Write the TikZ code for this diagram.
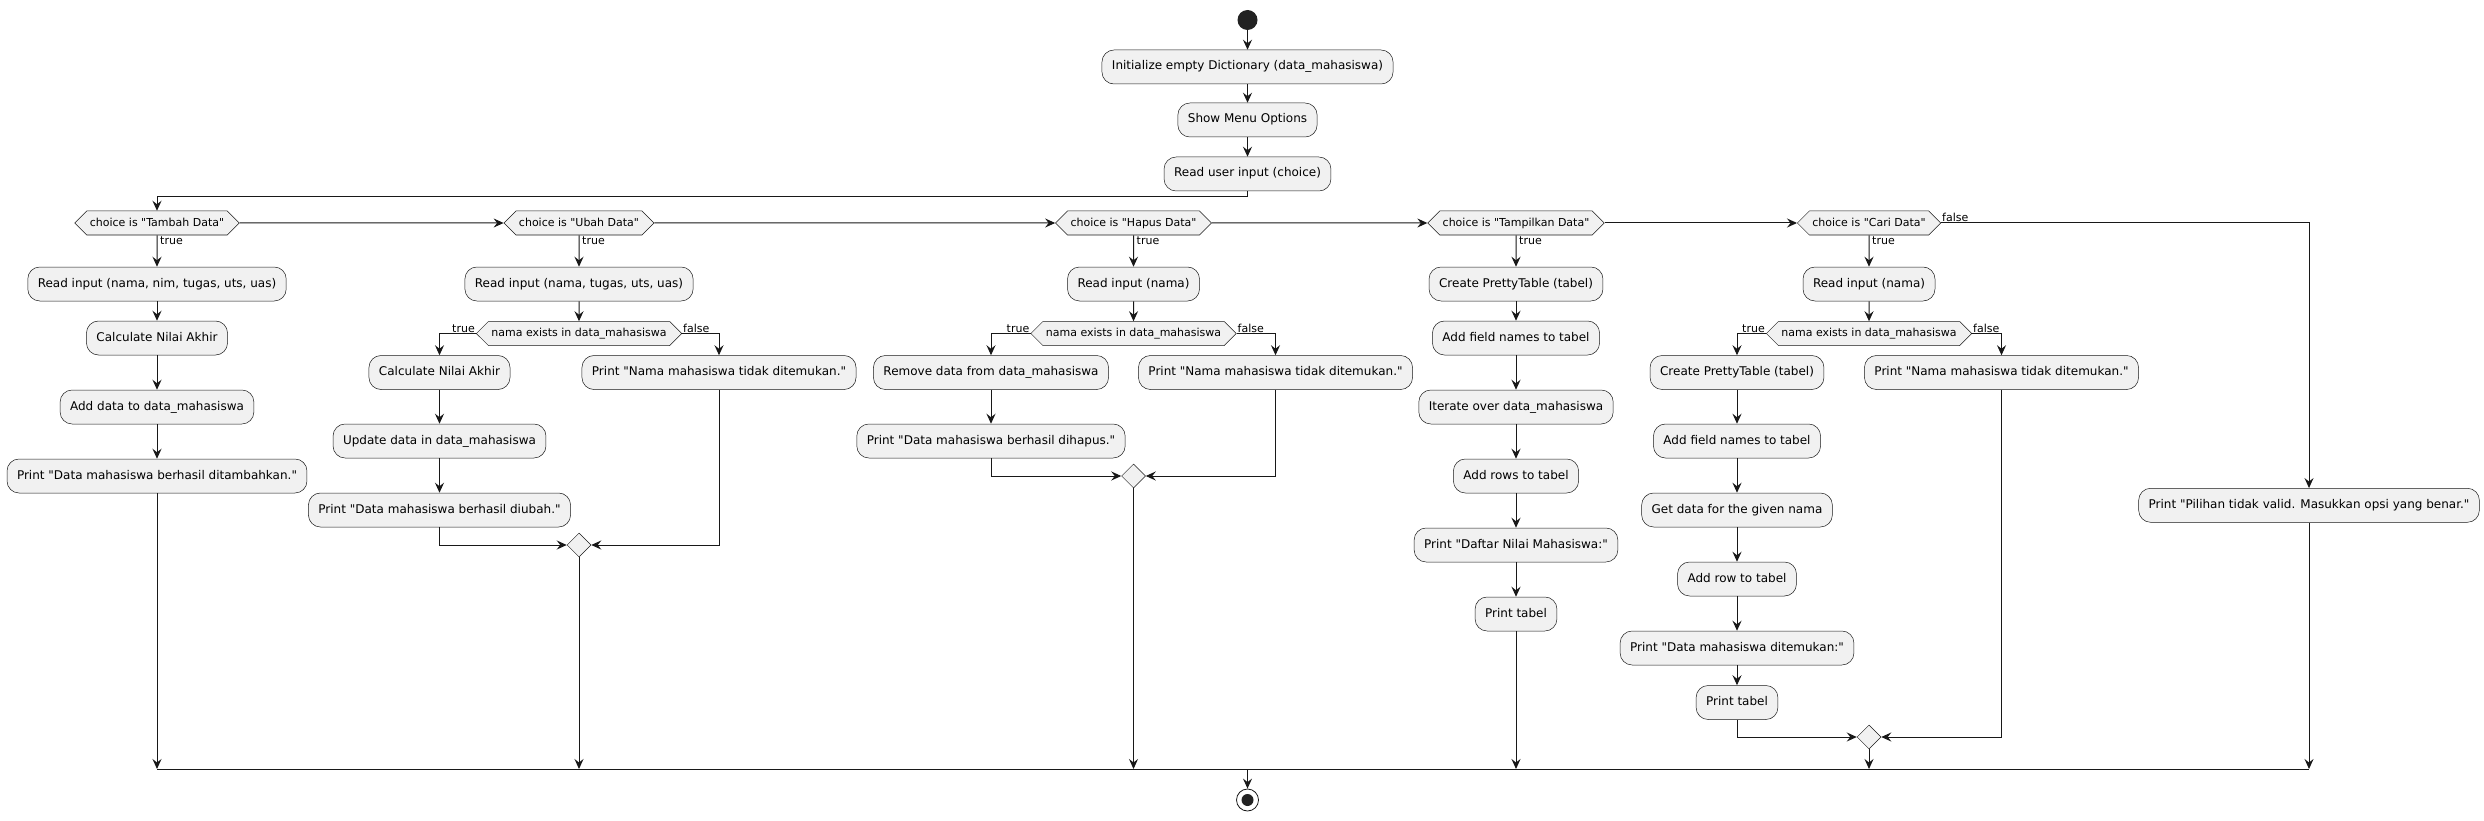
\documentclass[tikz,border=0pt]{standalone}
\usepackage{fontspec}
\setmainfont{DejaVu Sans}[Ligatures=TeXOff]
\usepackage{xcolor}
\usetikzlibrary{arrows.meta,positioning,shapes.geometric,shapes.symbols}
\definecolor{actfill}{HTML}{F1F1F1}
\definecolor{actline}{HTML}{181818}
\definecolor{dotfill}{HTML}{222222}

\begin{document}
\begin{tikzpicture}[
  x=1pt, y=-1pt,
  font=\fontsize{12}{14}\selectfont,
  act/.style={draw=actline, line width=0.5pt, fill=actfill, rounded corners=12pt, inner xsep=10pt, inner ysep=11pt, text height=9pt, text depth=3pt},
  cond/.style={signal, signal to=east and west, signal pointer angle=90, draw=actline, line width=0.5pt, fill=actfill, font=\fontsize{11}{13}\selectfont, inner xsep=3pt, inner ysep=6.5pt, text height=8.5pt, text depth=2.5pt},
  merge/.style={diamond, draw=actline, line width=0.5pt, fill=actfill, minimum width=24pt, minimum height=24pt, inner sep=0pt},
  lbl/.style={font=\fontsize{11}{13}\selectfont, inner sep=1pt},
  flow/.style={draw=actline, line width=1pt, -{Stealth[length=10pt,width=9pt,inset=3.5pt]}},
  wire/.style={draw=actline, line width=1pt}
]
\useasboundingbox (0,0) rectangle (2484,821);

% Start
\node[circle, fill=dotfill, minimum size=20pt, inner sep=0pt] (start) at (1247.5,20) {};
\node[act] (init)   at (1247.5,67)  {Initialize empty Dictionary (data\_mahasiswa)};
\node[act] (menu)   at (1247.5,120) {Show Menu Options};
\node[act] (choice) at (1247.5,174) {Read user input (choice)};

% Menu decisions
\node[cond] (tambah) at (157,223)    {choice is "Tambah Data"};
\node[cond] (ubah)   at (579,223)    {choice is "Ubah Data"};
\node[cond] (hapus)  at (1133.5,223) {choice is "Hapus Data"};
\node[cond] (tampil) at (1516,223)   {choice is "Tampilkan Data"};
\node[cond] (cari)   at (1869,223)   {choice is "Cari Data"};

% Tambah Data
\node[act] (t1) at (157,284) {Read input (nama, nim, tugas, uts, uas)};
\node[act] (t2) at (157,338) {Calculate Nilai Akhir};
\node[act] (t3) at (157,407) {Add data to data\_mahasiswa};
\node[act] (t4) at (157,476) {Print "Data mahasiswa berhasil ditambahkan."};

% Ubah Data
\node[act]   (u1) at (579,284)     {Read input (nama, tugas, uts, uas)};
\node[cond]  (u2) at (579,333.5)   {nama exists in data\_mahasiswa};
\node[act]   (u3) at (439.5,372.5) {Calculate Nilai Akhir};
\node[act]   (u4) at (439.5,441)   {Update data in data\_mahasiswa};
\node[act]   (u5) at (439.5,510)   {Print "Data mahasiswa berhasil diubah."};
\node[act]   (u6) at (719,372.5)   {Print "Nama mahasiswa tidak ditemukan."};
\node[merge] (u7) at (579,545) {};

% Hapus Data
\node[act]   (h1) at (1133.5,284)   {Read input (nama)};
\node[cond]  (h2) at (1133.5,333.5) {nama exists in data\_mahasiswa};
\node[act]   (h3) at (991,372.5)    {Remove data from data\_mahasiswa};
\node[act]   (h4) at (991,441)      {Print "Data mahasiswa berhasil dihapus."};
\node[act]   (h5) at (1275.5,372.5) {Print "Nama mahasiswa tidak ditemukan."};
\node[merge] (h6) at (1133.5,476) {};

% Tampilkan Data
\node[act] (p1) at (1516,284) {Create PrettyTable (tabel)};
\node[act] (p2) at (1516,338) {Add field names to tabel};
\node[act] (p3) at (1516,407) {Iterate over data\_mahasiswa};
\node[act] (p4) at (1516,476) {Add rows to tabel};
\node[act] (p5) at (1516,545) {Print "Daftar Nilai Mahasiswa:"};
\node[act] (p6) at (1516,614) {Print tabel};

% Cari Data
\node[act]   (c1)  at (1869,284)     {Read input (nama)};
\node[cond]  (c2)  at (1869,333.5)   {nama exists in data\_mahasiswa};
\node[act]   (c3)  at (1737,372.5)   {Create PrettyTable (tabel)};
\node[act]   (c4)  at (1737,441)     {Add field names to tabel};
\node[act]   (c5)  at (1737,510)     {Get data for the given nama};
\node[act]   (c6)  at (1737,579)     {Add row to tabel};
\node[act]   (c7)  at (1737,648)     {Print "Data mahasiswa ditemukan:"};
\node[act]   (c8)  at (1737,702.5)   {Print tabel};
\node[act]   (c9)  at (2001.5,372.5) {Print "Nama mahasiswa tidak ditemukan."};
\node[merge] (c10) at (1869,737) {};

% Invalid choice
\node[act] (invalid) at (2309,505.3) {Print "Pilihan tidak valid. Masukkan opsi yang benar."};

% End
\coordinate (barL) at (157,769);
\coordinate (barR) at (2309,769);
\coordinate (barM) at (1247.5,769);
\node[circle, draw=actline, line width=0.8pt, minimum size=22pt, inner sep=0pt] (stop) at (1247.5,800) {};
\node[circle, fill=dotfill, minimum size=12pt, inner sep=0pt] (stopdot) at (stop) {};

% Main flow
\draw[flow] (start) -- (init);
\draw[flow] (init) -- (menu);
\draw[flow] (menu) -- (choice);
\draw[flow] (choice.south) -- ++(0,5.5) -| (tambah.north);
\draw[flow] (tambah) -- (ubah);
\draw[flow] (ubah) -- (hapus);
\draw[flow] (hapus) -- (tampil);
\draw[flow] (tampil) -- (cari);
\draw[flow] (cari.east) -| (invalid.north);
\node[lbl, anchor=south west] at (cari.east) {false};

% true branches
\foreach \d/\b in {tambah/t1, ubah/u1, hapus/h1, tampil/p1, cari/c1} {
  \draw[flow] (\d) -- (\b);
  \node[lbl, anchor=north west] at ([xshift=2pt]\d.south) {true};
}

% chains
\draw[flow] (t1) -- (t2);
\draw[flow] (t2) -- (t3);
\draw[flow] (t3) -- (t4);
\draw[flow] (u1) -- (u2);
\draw[flow] (u3) -- (u4);
\draw[flow] (u4) -- (u5);
\draw[flow] (h1) -- (h2);
\draw[flow] (h3) -- (h4);
\draw[flow] (p1) -- (p2);
\draw[flow] (p2) -- (p3);
\draw[flow] (p3) -- (p4);
\draw[flow] (p4) -- (p5);
\draw[flow] (p5) -- (p6);
\draw[flow] (c1) -- (c2);
\draw[flow] (c3) -- (c4);
\draw[flow] (c4) -- (c5);
\draw[flow] (c5) -- (c6);
\draw[flow] (c6) -- (c7);
\draw[flow] (c7) -- (c8);

% nested decisions
\foreach \d/\y/\n/\m in {u2/u3/u6/u7, h2/h3/h5/h6, c2/c3/c9/c10} {
  \draw[flow] (\d.west) -| (\y.north);
  \node[lbl, anchor=south east] at (\d.west) {true};
  \draw[flow] (\d.east) -| (\n.north);
  \node[lbl, anchor=south west] at (\d.east) {false};
  \draw[flow] (\n.south) |- (\m.east);
}
\draw[flow] (u5.south) |- (u7.west);
\draw[flow] (h4.south) |- (h6.west);
\draw[flow] (c8.south) |- (c10.west);

% into the bar
\draw[flow] (t4.south) -- (t4.south |- barL);
\draw[flow] (u7.south) -- (u7.south |- barL);
\draw[flow] (h6.south) -- (h6.south |- barL);
\draw[flow] (p6.south) -- (p6.south |- barL);
\draw[flow] (c10.south) -- (c10.south |- barL);
\draw[flow] (invalid.south) -- (invalid.south |- barL);
\draw[wire] (barL) -- (barR);
\draw[flow] (barM) -- (stop);
\end{tikzpicture}
\end{document}
